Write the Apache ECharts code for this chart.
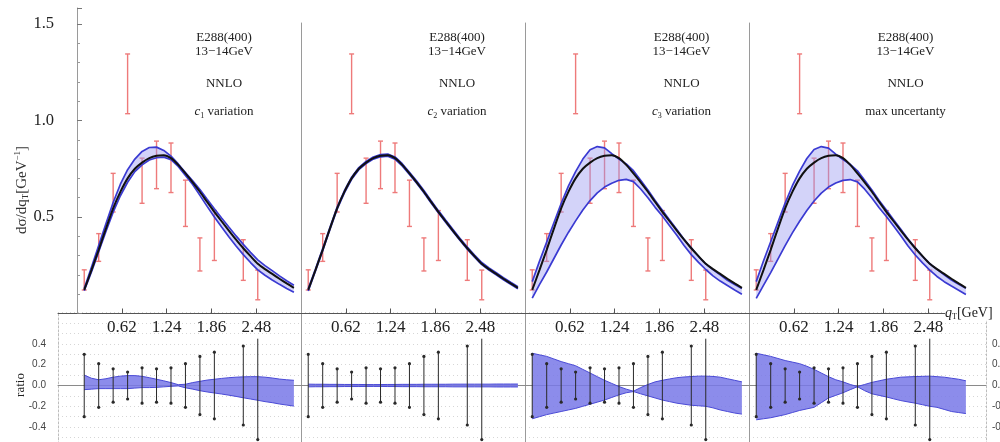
<!DOCTYPE html>
<html>
<head>
<meta charset="utf-8">
<script src="https://cdn.jsdelivr.net/npm/echarts@6/dist/echarts.min.js"></script>
<style>
html,body{margin:0;padding:0;background:#fff}
#chart{width:1000px;height:442px}
</style>
</head>
<body>
<div id="chart"></div>
<script>
// E288 (400 GeV beam), 13-14 GeV mass bin: measured dσ/dqT
const qT = [0.1, 0.3, 0.5, 0.7, 0.9, 1.1, 1.3, 1.5, 1.7, 1.9, 2.3, 2.5];
const sigma = [0.174, 0.342, 0.626, 1.19, 0.688, 0.77, 0.755, 0.571, 0.306, 0.404, 0.277, 0.148];
const relErr = [0.30, 0.21, 0.16, 0.13, 0.17, 0.16, 0.17, 0.21, 0.28, 0.32, 0.38, 0.52];

// NNLO prediction on a qT grid
const qTGrid = [0.1,0.2,0.3,0.4,0.5,0.6,0.7,0.8,0.9,1.0,1.1,1.2,1.3,1.4,1.5,1.6,1.7,1.8,1.9,2.0,2.1,2.2,2.3,2.4,2.5,2.6,2.7,2.8,2.9,3.0];
const central = [0.122,0.225,0.330,0.440,0.545,0.630,0.700,0.750,0.782,0.805,0.817,0.820,0.805,0.770,0.726,0.680,0.631,0.578,0.527,0.478,0.430,0.383,0.338,0.297,0.258,0.230,0.205,0.180,0.156,0.133];

// uncertainty envelopes of dσ/dqT
const c1Upper = [0.130,0.240,0.352,0.465,0.575,0.670,0.745,0.800,0.840,0.860,0.862,0.845,0.815,0.775,0.730,0.688,0.642,0.592,0.543,0.495,0.448,0.402,0.358,0.317,0.278,0.248,0.222,0.195,0.170,0.146];
const c1Lower = [0.118,0.215,0.320,0.425,0.525,0.610,0.680,0.735,0.770,0.795,0.807,0.810,0.797,0.762,0.715,0.668,0.612,0.555,0.500,0.448,0.398,0.350,0.305,0.264,0.226,0.198,0.174,0.151,0.130,0.110];
const c2Upper = [0.128,0.231,0.336,0.446,0.551,0.636,0.706,0.756,0.788,0.811,0.823,0.826,0.811,0.776,0.732,0.686,0.637,0.584,0.533,0.484,0.436,0.389,0.344,0.303,0.264,0.236,0.211,0.186,0.162,0.139];
const c2Lower = [0.117,0.220,0.325,0.435,0.540,0.625,0.695,0.745,0.777,0.800,0.812,0.815,0.800,0.765,0.721,0.675,0.626,0.573,0.522,0.473,0.425,0.378,0.333,0.292,0.253,0.225,0.200,0.175,0.151,0.128];
const c3Upper = [0.165,0.270,0.370,0.470,0.570,0.660,0.735,0.800,0.848,0.865,0.858,0.828,0.800,0.775,0.740,0.690,0.640,0.585,0.535,0.485,0.435,0.385,0.340,0.295,0.257,0.228,0.200,0.172,0.150,0.130];
const c3Lower = [0.080,0.150,0.215,0.285,0.355,0.420,0.480,0.536,0.585,0.625,0.655,0.675,0.690,0.695,0.683,0.645,0.600,0.550,0.505,0.455,0.405,0.352,0.305,0.265,0.228,0.195,0.168,0.145,0.122,0.100];
const maxUpper = [0.165,0.272,0.372,0.472,0.572,0.662,0.738,0.803,0.850,0.865,0.857,0.826,0.798,0.773,0.739,0.690,0.640,0.586,0.536,0.486,0.436,0.386,0.341,0.296,0.258,0.229,0.201,0.173,0.151,0.131];
const maxLower = [0.078,0.146,0.212,0.282,0.352,0.418,0.478,0.534,0.583,0.624,0.655,0.676,0.690,0.694,0.682,0.644,0.598,0.548,0.503,0.453,0.403,0.350,0.303,0.262,0.225,0.192,0.165,0.142,0.120,0.098];

// relative deviation bands shown in the ratio panels
const c1RatioUp = [0.100,0.070,0.055,0.065,0.080,0.090,0.095,0.095,0.088,0.075,0.060,0.045,0.028,0.008,0.012,0.028,0.040,0.052,0.060,0.068,0.075,0.080,0.083,0.085,0.085,0.080,0.072,0.062,0.055,0.050];
const c1RatioLo = [-0.040,-0.035,-0.030,-0.030,-0.030,-0.030,-0.030,-0.025,-0.020,-0.020,-0.018,-0.013,-0.008,-0.004,-0.022,-0.035,-0.050,-0.062,-0.072,-0.082,-0.093,-0.105,-0.118,-0.130,-0.142,-0.155,-0.165,-0.178,-0.188,-0.198];
const c2RatioUp = [0.013,0.012,0.012,0.011,0.011,0.010,0.010,0.010,0.009,0.009,0.009,0.010,0.010,0.011,0.011,0.011,0.012,0.012,0.012,0.012,0.013,0.013,0.013,0.013,0.013,0.013,0.014,0.014,0.014,0.014];
const c2RatioLo = [-0.013,-0.012,-0.012,-0.011,-0.011,-0.010,-0.010,-0.010,-0.009,-0.009,-0.009,-0.010,-0.010,-0.011,-0.011,-0.011,-0.012,-0.012,-0.012,-0.012,-0.013,-0.013,-0.013,-0.013,-0.013,-0.013,-0.014,-0.014,-0.014,-0.014];
const c3RatioUp = [0.310,0.295,0.280,0.255,0.230,0.210,0.190,0.155,0.120,0.085,0.050,0.020,-0.010,-0.035,-0.055,-0.020,0.010,0.035,0.050,0.063,0.075,0.082,0.086,0.090,0.090,0.087,0.080,0.065,0.050,0.035];
const c3RatioLo = [-0.320,-0.300,-0.280,-0.265,-0.250,-0.235,-0.220,-0.200,-0.180,-0.160,-0.140,-0.115,-0.090,-0.070,-0.058,-0.080,-0.100,-0.120,-0.140,-0.155,-0.170,-0.180,-0.190,-0.195,-0.200,-0.215,-0.235,-0.250,-0.265,-0.275];
const maxRatioUp = [0.310,0.295,0.280,0.260,0.240,0.225,0.210,0.185,0.155,0.120,0.085,0.055,0.035,0.010,-0.010,0.010,0.030,0.045,0.060,0.070,0.080,0.083,0.086,0.088,0.090,0.085,0.080,0.070,0.060,0.045];
const maxRatioLo = [-0.330,-0.320,-0.310,-0.295,-0.280,-0.260,-0.240,-0.225,-0.210,-0.165,-0.120,-0.095,-0.070,-0.040,-0.012,-0.050,-0.080,-0.095,-0.110,-0.128,-0.145,-0.158,-0.170,-0.185,-0.200,-0.210,-0.230,-0.250,-0.260,-0.270];

// axis ticks and panel captions
const qTTicks = [0.62, 1.24, 1.86, 2.48];
const ratioTicks = [-0.4, -0.2, 0.0, 0.2, 0.4];
const headerLines = ['E288(400)', '13\u221214GeV', 'NNLO'];
const variationLabels = ['{i|c}{sub|1}{t| variation}', '{i|c}{sub|2}{t| variation}', '{i|c}{sub|3}{t| variation}', '{t|max uncertanty}'];

const topUpper = [c1Upper, c2Upper, c3Upper, maxUpper];
const topLower = [c1Lower, c2Lower, c3Lower, maxLower];
const ratioUpper = [c1RatioUp, c2RatioUp, c3RatioUp, maxRatioUp];
const ratioLower = [c1RatioLo, c2RatioLo, c3RatioLo, maxRatioLo];

// ---- layout ----
const SERIF = '"Liberation Serif", "Times New Roman", serif';
const SANS = '"Liberation Sans", Arial, sans-serif';
const PX_PER_GEV = 72.3;
const PX_PER_UNIT = 193;      // top panels, per unit of dσ/dqT
const RATIO_PX = 104;         // ratio panels, per unit of ratio
const AXIS_Y = 313.5;         // pixel row of dσ/dqT = 0
const RATIO_ZERO_Y = 385.5;   // pixel row of ratio = 0
const RATIO_MIN = -0.6, RATIO_MAX = 0.7, RATIO_CLIP = 0.45;

const topBoxes = [
  {left: 58, top: 8, width: 243, x0: 77},
  {left: 301, top: 23, width: 224, x0: 301},
  {left: 525, top: 23, width: 224, x0: 525},
  {left: 749, top: 23, width: 225, x0: 749}
];
const ratioBoxes = [
  {left: 58, width: 243, x0: 77},
  {left: 301, width: 224, x0: 301},
  {left: 525, width: 224, x0: 525},
  {left: 749, width: 237, x0: 749}
];
const captionX = [224, 457, 681.5, 905.5];

const BLUE = '#3a3ad2';
const RED = '#ee7a7a';
const GRID_GRAY = '#9a9a9a';

const grids = [], xAxes = [], yAxes = [], series = [];

function xRange(box) {
  return {min: (box.left - box.x0) / PX_PER_GEV, max: (box.left + box.width - box.x0) / PX_PER_GEV};
}

topBoxes.forEach((b, p) => {
  const height = AXIS_Y - b.top;
  grids.push({left: b.left, top: b.top, width: b.width, height: height, outerBoundsMode: 'none', containLabel: false});
  const r = xRange(b);
  xAxes.push({
    type: 'value', gridIndex: p, min: r.min, max: r.max,
    axisLine: {show: true, onZero: false, lineStyle: {color: '#555', width: 1}},
    axisTick: {show: true, inside: true, length: 5, customValues: qTTicks, lineStyle: {color: '#555'}},
    axisLabel: {show: true, customValues: qTTicks, margin: 6, color: '#222', fontFamily: SERIF, fontSize: 17,
      formatter: v => v.toFixed(2)},
    splitLine: {show: false}
  });
  if (p === 0) {
    yAxes.push({
      type: 'value', gridIndex: p, min: 0, max: height / PX_PER_UNIT, interval: 0.5,
      axisLine: {show: true, onZero: true, lineStyle: {color: GRID_GRAY}},
      axisTick: {show: true, inside: true, length: 5, lineStyle: {color: '#777'}},
      minorTick: {show: true, splitNumber: 5, length: 3, lineStyle: {color: '#999'}},
      axisLabel: {show: true, margin: 4, color: '#222', fontFamily: SERIF, fontSize: 16.5,
        formatter: v => (v === 0 || v > 1.55) ? '' : v.toFixed(1)},
      splitLine: {show: false}
    });
  } else {
    yAxes.push({
      type: 'value', gridIndex: p, min: 0, max: height / PX_PER_UNIT,
      axisLine: {show: true, onZero: false, lineStyle: {color: GRID_GRAY}},
      axisTick: {show: false}, axisLabel: {show: false}, splitLine: {show: false}
    });
  }
});

ratioBoxes.forEach((b, p) => {
  const gi = 4 + p;
  const top = RATIO_ZERO_Y - RATIO_MAX * RATIO_PX;
  grids.push({left: b.left, top: top, width: b.width, height: (RATIO_MAX - RATIO_MIN) * RATIO_PX,
    outerBoundsMode: 'none', containLabel: false});
  const r = xRange(b);
  xAxes.push({
    type: 'value', gridIndex: gi, min: r.min, max: r.max,
    axisLine: {show: true, onZero: true, lineStyle: {color: '#8a8a8a', width: 1}},
    axisTick: {show: false}, axisLabel: {show: false},
    splitLine: {show: false}
  });
  const splitDots = {show: true, lineStyle: {color: '#d6d6d6', type: [1, 3], width: 1}};
  if (p === 0) {
    yAxes.push({
      type: 'value', gridIndex: gi, min: RATIO_MIN, max: RATIO_MAX, interval: 0.1, position: 'left',
      axisLine: {show: true, onZero: false, lineStyle: {color: '#bdbdbd', type: [2, 2]}},
      axisTick: {show: false},
      axisLabel: {show: true, customValues: ratioTicks, margin: 12, color: '#444', fontFamily: SANS, fontSize: 10,
        formatter: v => v.toFixed(1)},
      splitLine: splitDots
    });
  } else {
    yAxes.push({
      type: 'value', gridIndex: gi, min: RATIO_MIN, max: RATIO_MAX, interval: 0.1, position: 'left',
      axisLine: {show: true, onZero: false, lineStyle: {color: GRID_GRAY}},
      axisTick: {show: false}, axisLabel: {show: false},
      splitLine: splitDots
    });
  }
});
// right-hand ratio scale of the last panel
yAxes.push({
  type: 'value', gridIndex: 7, min: RATIO_MIN, max: RATIO_MAX, interval: 0.1, position: 'right',
  axisLine: {show: true, onZero: false, lineStyle: {color: '#bdbdbd', type: [2, 2]}},
  axisTick: {show: false},
  axisLabel: {show: true, customValues: ratioTicks, margin: 6, color: '#444', fontFamily: SANS, fontSize: 10,
    formatter: v => v.toFixed(1)},
  splitLine: {show: false}
});

function pairs(xs, ys) { return xs.map((x, i) => [x, ys[i]]); }
function clipY(y, cs) { return Math.min(Math.max(y, cs.y), cs.y + cs.height); }

// filled envelope between two curves, drawn as one polygon through the axis scales
function bandSeries(axisIndex, xs, lo, hi, fill) {
  return {
    type: 'custom', xAxisIndex: axisIndex, yAxisIndex: axisIndex, z: 2, silent: true,
    data: xs.map((x, i) => [x, lo[i], hi[i]]),
    renderItem: (params, api) => {
      if (params.dataIndex !== 0) return null;
      const pts = [];
      for (let i = 0; i < xs.length; i++) pts.push(api.coord([xs[i], hi[i]]));
      for (let i = xs.length - 1; i >= 0; i--) pts.push(api.coord([xs[i], lo[i]]));
      return {type: 'polygon', shape: {points: pts}, style: {fill: fill, stroke: null}};
    }
  };
}

function dataBar(params, api) {
  const x = api.value(0), v = api.value(1), e = api.value(2);
  const hi = api.coord([x, v * (1 + e)]);
  const lo = api.coord([x, v * (1 - e)]);
  const cs = params.coordSys;
  const y1 = clipY(hi[1], cs), y2 = clipY(lo[1], cs);
  const px = hi[0], cap = 2.5;
  const st = {stroke: RED, lineWidth: 1.4};
  return {type: 'group', children: [
    {type: 'line', shape: {x1: px, y1: y1, x2: px, y2: y2}, style: st},
    {type: 'line', shape: {x1: px - cap, y1: y1, x2: px + cap, y2: y1}, style: st},
    {type: 'line', shape: {x1: px - cap, y1: y2, x2: px + cap, y2: y2}, style: st}
  ]};
}

function ratioBar(params, api) {
  const x = api.value(0), e = api.value(1);
  const hi = api.coord([x, Math.min(e, RATIO_CLIP)]);
  const lo = api.coord([x, -e]);
  const cs = params.coordSys;
  const y1 = clipY(hi[1], cs), y2 = clipY(lo[1], cs);
  const px = hi[0];
  const children = [
    {type: 'line', shape: {x1: px, y1: y1, x2: px, y2: y2}, style: {stroke: '#2a2a2a', lineWidth: 1}}
  ];
  if (e <= RATIO_CLIP) children.push({type: 'circle', shape: {cx: px, cy: y1, r: 1.6}, style: {fill: '#2a2a2a'}});
  if (y2 < cs.y + cs.height) children.push({type: 'circle', shape: {cx: px, cy: y2, r: 1.6}, style: {fill: '#2a2a2a'}});
  return {type: 'group', children: children};
}

for (let p = 0; p < 4; p++) {
  const up = topUpper[p], lo = topLower[p];
  // measured points sit underneath the curves
  series.push({
    type: 'custom', xAxisIndex: p, yAxisIndex: p, z: 1,
    data: qT.map((x, i) => [x, sigma[i], relErr[i]]),
    renderItem: dataBar, silent: true
  });
  series.push(bandSeries(p, qTGrid, lo, up, 'rgba(150,150,240,0.42)'));
  [up, lo].forEach(edge => series.push({
    type: 'line', xAxisIndex: p, yAxisIndex: p, z: 3,
    data: pairs(qTGrid, edge), showSymbol: false, lineStyle: {color: BLUE, width: 1.7}, silent: true
  }));
  series.push({
    type: 'line', xAxisIndex: p, yAxisIndex: p, z: 4, smooth: 0.25,
    data: pairs(qTGrid, central), showSymbol: false, lineStyle: {color: '#111', width: 2}, silent: true
  });

  const gi = 4 + p;
  const rUp = ratioUpper[p], rLo = ratioLower[p];
  series.push(bandSeries(gi, qTGrid, rLo, rUp, 'rgba(120,120,232,0.85)'));
  [rUp, rLo].forEach(edge => series.push({
    type: 'line', xAxisIndex: gi, yAxisIndex: gi, z: 3,
    data: pairs(qTGrid, edge), showSymbol: false, lineStyle: {color: '#4a4ad6', width: 1}, silent: true
  }));
  series.push({
    type: 'custom', xAxisIndex: gi, yAxisIndex: gi, z: 5,
    data: qT.map((x, i) => [x, relErr[i]]),
    renderItem: ratioBar, silent: true
  });
}

// captions
const RICH = {
  t: {fontFamily: SERIF, fontSize: 13, fill: '#222'},
  i: {fontFamily: SERIF, fontSize: 13, fontStyle: 'italic', fill: '#222'},
  sub: {fontFamily: SERIF, fontSize: 8, fill: '#222', padding: [7, 0, 0, 0]},
  sup: {fontFamily: SERIF, fontSize: 8, fill: '#222', padding: [0, 0, 7, 0]},
  tl: {fontFamily: SERIF, fontSize: 15, fill: '#333'},
  subl: {fontFamily: SERIF, fontSize: 9, fill: '#333', padding: [8, 0, 0, 0]},
  supl: {fontFamily: SERIF, fontSize: 9, fill: '#333', padding: [0, 0, 8, 0]},
  qi: {fontFamily: SERIF, fontSize: 14, fontStyle: 'italic', fill: '#222'},
  qt: {fontFamily: SERIF, fontSize: 14, fill: '#222'}
};
function textEl(x, y, text, extra) {
  return Object.assign({
    type: 'text', x: x, y: y, silent: true,
    style: {text: text, x: 0, y: 0, align: 'center', verticalAlign: 'middle',
      textAlign: 'center', textVerticalAlign: 'middle',
      font: '13px ' + SERIF, fill: '#222', rich: RICH}
  }, extra || {});
}
const graphics = [];
captionX.forEach((cx, p) => {
  graphics.push(textEl(cx, 38, headerLines[0]));
  graphics.push(textEl(cx, 52, headerLines[1]));
  graphics.push(textEl(cx, 84, headerLines[2]));
  graphics.push(textEl(cx, 112, variationLabels[p]));
});
graphics.push(textEl(22, 190, '{tl|d\u03c3/dq}{subl|T}{tl|[GeV}{supl|\u22121}{tl|]}', {rotation: Math.PI / 2}));
graphics.push(textEl(21, 385, '{t|ratio}', {rotation: Math.PI / 2}));
const qLabel = textEl(945, 313, '{qi|q}{sub|T}{qt|[GeV]}');
qLabel.style.align = 'left'; qLabel.style.textAlign = 'left';
qLabel.style.backgroundColor = '#fff';
qLabel.z = 50;
graphics.push(qLabel);

const chart = echarts.init(document.getElementById('chart'));
chart.setOption({
  animation: false,
  backgroundColor: '#fff',
  grid: grids,
  xAxis: xAxes,
  yAxis: yAxes,
  series: series,
  graphic: {elements: graphics}
});
</script>
</body>
</html>
